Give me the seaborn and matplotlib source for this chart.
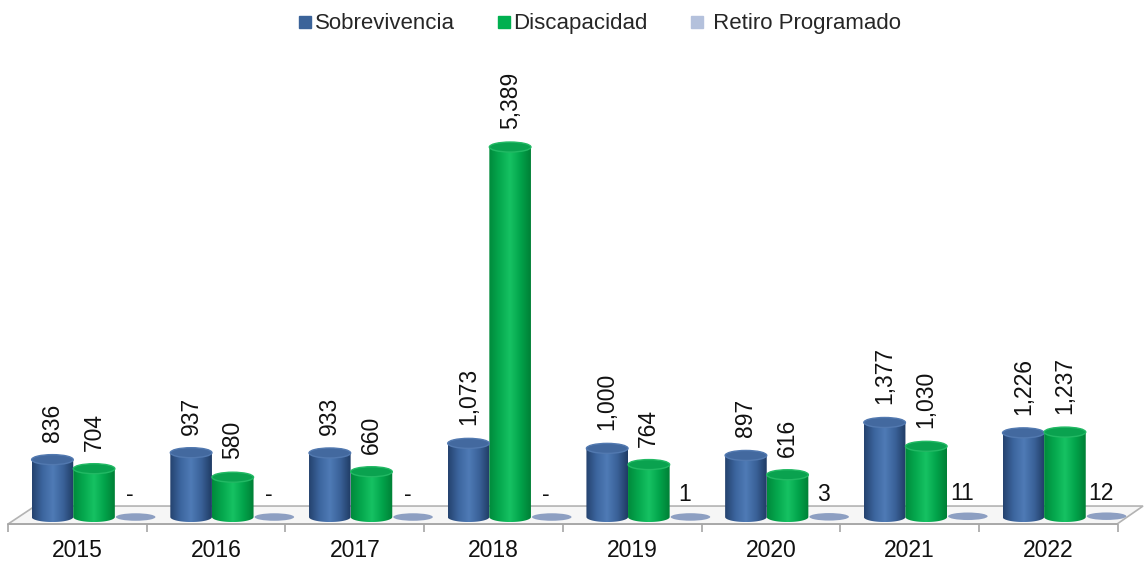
import numpy as np
import pandas as pd
import matplotlib
matplotlib.use("Agg")
import matplotlib.pyplot as plt
import seaborn as sns
from matplotlib.patches import Ellipse, Polygon, PathPatch
from matplotlib.path import Path
from matplotlib.lines import Line2D
from matplotlib.colors import LinearSegmentedColormap

# ---- data -----------------------------------------------------------------
years = ["2015", "2016", "2017", "2018", "2019", "2020", "2021", "2022"]
sobrevivencia = [836, 937, 933, 1073, 1000, 897, 1377, 1226]
discapacidad = [704, 580, 660, 5389, 764, 616, 1030, 1237]
retiro = [0, 0, 0, 0, 1, 3, 11, 12]
series_names = ["Sobrevivencia", "Discapacidad", "Retiro Programado"]
legend_labels = ["Sobrevivencia", "Discapacidad", " Retiro Programado"]

df = pd.DataFrame({
    "Año": years * 3,
    "Serie": [series_names[0]] * 8 + [series_names[1]] * 8 + [series_names[2]] * 8,
    "Valor": sobrevivencia + discapacidad + retiro,
})

# ---- style ------------------------------------------------------------------
sns.set_theme(style="white")
plt.rcParams["font.family"] = ["Liberation Sans", "DejaVu Sans"]

base_colors = ["#3a6198", "#00b050", "#8d9fc2"]
legend_colors = ["#3b6399", "#00b050", "#b4c1dc"]
shade = {
    0: LinearSegmentedColormap.from_list("b", ["#24426e", "#3c659e", "#4f7bb6", "#3a6198", "#1f3b64"]),
    1: LinearSegmentedColormap.from_list("g", ["#008a3b", "#05a84e", "#16c263", "#02a44b", "#007f36"]),
}
top_colors = ["#43699f", "#0aa24f", "#8d9fc2"]
top_edges = ["#5279b0", "#22b964", "#9aaac8"]

fig = plt.figure(figsize=(11.44, 5.61), dpi=100)
ax = fig.add_axes([0, 31 / 561, 1, 490 / 561])

sns.barplot(data=df, x="Año", y="Valor", hue="Serie", hue_order=series_names,
            palette=base_colors, saturation=1, width=0.9, dodge=True,
            legend=False, ax=ax, zorder=2)

YMIN, YMAX = -189, 6948
XMIN, XMAX = -0.678, 7.570
ax.set_xlim(XMIN, XMAX)
ax.set_ylim(YMIN, YMAX)

# vertical size of the elliptical caps in data units
px_per_unit = 490 / (YMAX - YMIN)
cap_h = 10 / px_per_unit

# ---- floor -------------------------------------------------------------------
floor_front, floor_back = -102, 160
floor = Polygon([(-0.62, floor_front), (7.376, floor_front),
                 (7.563, floor_back), (-0.425, floor_back)],
                closed=True, facecolor="#f6f6f6", edgecolor="#b3b3b3",
                lw=1.2, zorder=0.5)
ax.add_patch(floor)

# ---- cylinders ---------------------------------------------------------------
grad = np.linspace(0, 1, 256).reshape(1, -1)
theta = np.linspace(np.pi, 2 * np.pi, 60)

def fmt(v):
    v = int(round(v))
    return "-" if v == 0 else f"{v:,}"

for k, container in enumerate(ax.containers):
    for patch, val in zip(container.patches, container.datavalues):
        x0 = patch.get_x()
        w = patch.get_width()
        h = patch.get_height()
        cx = x0 + w / 2
        patch.set_visible(False)
        if k < 2:
            # body: rectangle plus a rounded bottom half-ellipse
            bx = cx + (w / 2) * np.cos(theta)
            by = (cap_h / 2) * np.sin(theta)
            verts = [(x0, h), (x0, 0)] + list(zip(bx, by)) + [(x0 + w, 0), (x0 + w, h), (x0, h)]
            codes = [Path.MOVETO] + [Path.LINETO] * (len(verts) - 2) + [Path.CLOSEPOLY]
            body = PathPatch(Path(verts, codes), transform=ax.transData,
                             facecolor="none", edgecolor="none")
            im = ax.imshow(grad, cmap=shade[k], extent=[x0, x0 + w, -cap_h / 2, h],
                           aspect="auto", origin="lower", zorder=2, interpolation="bilinear")
            im.set_clip_path(body)
            ax.add_patch(Ellipse((cx, h), w, cap_h, facecolor=top_colors[k],
                                 edgecolor=top_edges[k], lw=1.0, zorder=3))
            ax.annotate(fmt(val), (cx, h), xytext=(0, 13), textcoords="offset points",
                        rotation=90, ha="center", va="bottom", fontsize=16.5,
                        color="#111111", zorder=5)
        else:
            ax.add_patch(Ellipse((cx, h), w * 0.95, cap_h * 0.75, facecolor=top_colors[k],
                                 edgecolor="none", zorder=3))
            ax.annotate(fmt(val), (cx, h), xytext=(-4, 8),
                        textcoords="offset points", ha="center", va="bottom",
                        fontsize=16.5, color="#111111", zorder=5)

ax.set_xlim(XMIN, XMAX)
ax.set_ylim(YMIN, YMAX)

# ---- axes decoration ----------------------------------------------------------
for side in ["top", "right", "left"]:
    ax.spines[side].set_visible(False)
ax.spines["bottom"].set_position(("data", floor_front))
ax.spines["bottom"].set_bounds(-0.62, 7.376)
ax.spines["bottom"].set_color("#a6a6a6")
ax.spines["bottom"].set_linewidth(1.2)
ax.spines["bottom"].set_zorder(1)

centers = np.arange(len(years)) - 0.12
ax.set_xticks(centers)
ax.set_xticklabels(years, fontsize=16.5, color="#111111")
ax.set_xticks(np.arange(len(years) + 1) - 0.62, minor=True)
ax.tick_params(axis="x", which="major", length=0, pad=11)
ax.tick_params(axis="x", which="minor", length=6, width=1.2, color="#a6a6a6",
               direction="out", bottom=True)
ax.set_yticks([])
ax.set_xlabel("")
ax.set_ylabel("")
ax.set_facecolor("none")

# ---- legend --------------------------------------------------------------------
handles = [Line2D([0], [0], marker="s", linestyle="none", markersize=9,
                  markerfacecolor=c, markeredgecolor=c) for c in legend_colors]
fig.legend(handles, legend_labels, loc="upper center", bbox_to_anchor=(0.524, 1.0),
           ncol=3, frameon=False, fontsize=16, handlelength=0.6,
           handletextpad=0.15, columnspacing=1.9, borderaxespad=0.2)

fig.savefig("out.png", dpi=100, facecolor="white")
